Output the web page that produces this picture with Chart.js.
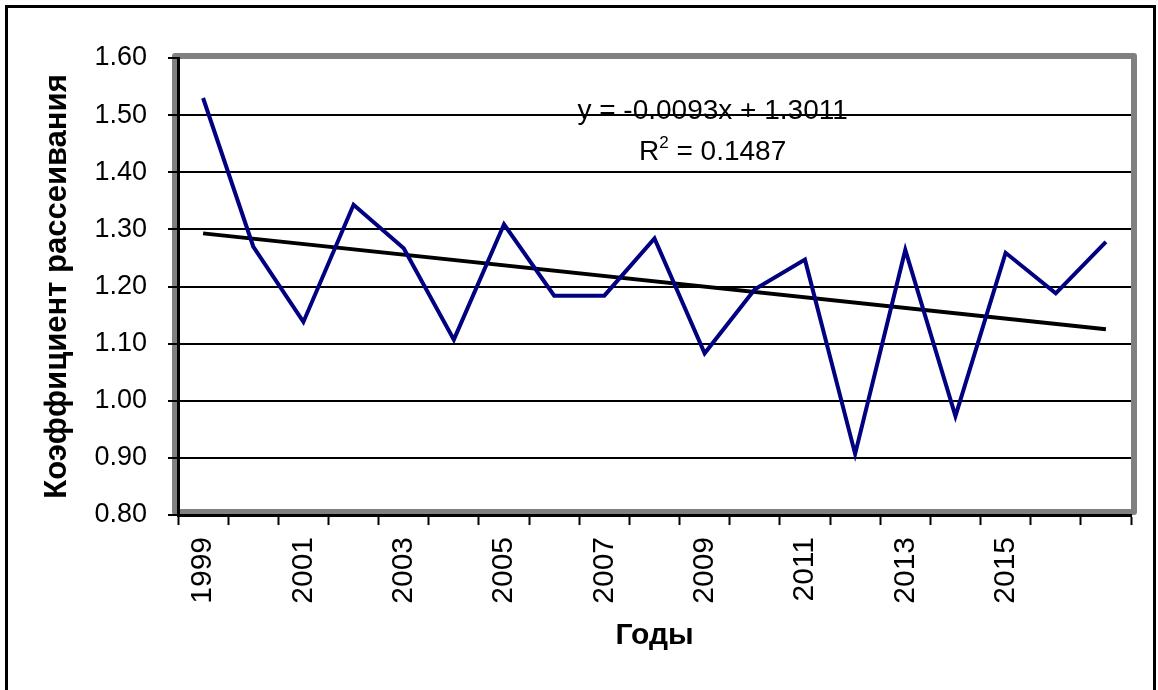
<!DOCTYPE html>
<html>
<head>
<meta charset="utf-8">
<script src="https://cdn.jsdelivr.net/npm/chart.js@4"></script>
<style>
  html, body { margin: 0; padding: 0; background: #fff; }
  #wrap { width: 1158px; height: 690px; }
</style>
</head>
<body>
<div id="wrap"><canvas id="chart" width="1158" height="690"></canvas></div>
<script>
// ---------- DATA ----------
const years = ['1999','2000','2001','2002','2003','2004','2005','2006','2007','2008',
               '2009','2010','2011','2012','2013','2014','2015','2016','2017'];
const coef = [1.53, 1.27, 1.138, 1.343, 1.267, 1.107, 1.309, 1.184, 1.184, 1.284,
              1.083, 1.195, 1.247, 0.907, 1.264, 0.973, 1.259, 1.188, 1.278];
// linear trend, only its end points
const trend = [1.293, null, null, null, null, null, null, null, null, null,
               null, null, null, null, null, null, null, null, 1.125];
const shownYears = ['1999','2001','2003','2005','2007','2009','2011','2013','2015'];
const yTicks = [0.8, 0.9, 1.0, 1.1, 1.2, 1.3, 1.4, 1.5, 1.6];
const eqText = 'y = -0.0093x + 1.3011';
const r2Text = ' = 0.1487';

const FONT = "'Liberation Sans', Arial, sans-serif";

// ---------- FRAME + EQUATION ----------
const framePlugin = {
  id: 'frame',
  beforeDraw(chart) {
    const ctx = chart.ctx;
    const a = chart.chartArea;
    ctx.save();
    ctx.fillStyle = '#fff';
    ctx.fillRect(0, 0, chart.width, chart.height);
    // outer border (open at bottom)
    ctx.strokeStyle = '#000';
    ctx.lineWidth = 3;
    ctx.beginPath();
    ctx.moveTo(6.5, chart.height + 5);
    ctx.lineTo(6.5, 6.5);
    ctx.lineTo(1154.5, 6.5);
    ctx.lineTo(1154.5, chart.height + 5);
    ctx.stroke();
    // grey plot frame
    ctx.strokeStyle = '#808080';
    ctx.lineWidth = 6;
    ctx.lineJoin = 'round';
    ctx.strokeRect(a.left - 3, a.top - 2, a.right + 3 - (a.left - 3), a.bottom - 3 - (a.top - 2));
    ctx.restore();
  },
  afterDraw(chart) {
    const ctx = chart.ctx;
    const a = chart.chartArea;
    const cx = a.left + (a.right - a.left) * 0.561;
    ctx.save();
    ctx.fillStyle = '#000';
    ctx.textBaseline = 'alphabetic';
    ctx.font = '28px ' + FONT;
    ctx.textAlign = 'center';
    ctx.fillText(eqText, cx, a.top + 61);
    // R^2 line
    const y2 = a.top + 102;
    ctx.textAlign = 'left';
    ctx.font = '28px ' + FONT;
    const wR = ctx.measureText('R').width;
    const wRest = ctx.measureText(r2Text).width;
    ctx.font = '17px ' + FONT;
    const wSup = ctx.measureText('2').width;
    let x = cx - (wR + wSup + wRest) / 2;
    ctx.font = '28px ' + FONT;
    ctx.fillText('R', x, y2);
    ctx.font = '17px ' + FONT;
    ctx.fillText('2', x + wR, y2 - 12);
    ctx.font = '28px ' + FONT;
    ctx.fillText(r2Text, x + wR + wSup, y2);
    ctx.restore();
  }
};

// ---------- CHART ----------
new Chart(document.getElementById('chart'), {
  type: 'line',
  data: {
    labels: years,
    datasets: [
      {
        label: 'Коэффициент рассеивания',
        data: coef,
        borderColor: '#000080',
        borderWidth: 4,
        pointRadius: 0,
        tension: 0,
        fill: false
      },
      {
        label: 'Тренд',
        data: trend,
        borderColor: '#000',
        borderWidth: 4,
        pointRadius: 0,
        spanGaps: true,
        fill: false
      }
    ]
  },
  options: {
    responsive: false,
    animation: false,
    layout: { padding: { top: 58, right: 27, left: 0, bottom: 0 } },
    plugins: {
      legend: { display: false },
      tooltip: { enabled: false }
    },
    scales: {
      x: {
        offset: true,
        afterFit: s => { s.height = 175; },
        grid: {
          offset: true,
          drawOnChartArea: false,
          drawTicks: true,
          tickLength: 10,
          tickColor: '#000',
          tickWidth: 2
        },
        border: { display: true, color: '#000', width: 3 },
        ticks: {
          autoSkip: false,
          minRotation: 90,
          maxRotation: 90,
          padding: 12,
          color: '#000',
          font: { family: FONT, size: 30 },
          callback: function(v, i) {
            const lab = years[i];
            return shownYears.includes(lab) ? lab : '';
          }
        },
        title: {
          display: true,
          text: 'Годы',
          color: '#000',
          font: { family: FONT, size: 30, weight: 'bold' },
          padding: { top: 0, bottom: 36 }
        }
      },
      y: {
        min: 0.8,
        max: 1.6,
        afterFit: s => { s.width = 178; },
        afterBuildTicks: s => { s.ticks = yTicks.map(v => ({ value: v })); },
        grid: {
          color: ctx => (ctx.tick && Math.abs(ctx.tick.value - 1.6) < 1e-6) ? 'rgba(0,0,0,0)' : '#000',
          lineWidth: 2,
          drawTicks: true,
          tickLength: 10,
          tickColor: '#000',
          tickWidth: 2
        },
        border: { display: true, color: '#000', width: 3 },
        ticks: {
          padding: 21,
          color: '#000',
          font: { family: FONT, size: 27 },
          callback: v => Number(v).toFixed(2)
        },
        title: {
          display: true,
          text: 'Коэффициент рассеивания',
          color: '#000',
          font: { family: FONT, size: 31, weight: 'bold' },
          padding: { top: 39, bottom: 0 }
        }
      }
    }
  },
  plugins: [framePlugin]
});
</script>
</body>
</html>
